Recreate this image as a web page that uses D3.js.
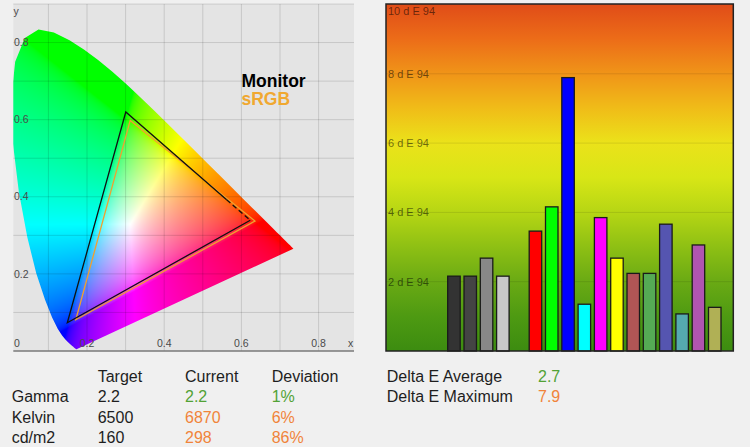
<!DOCTYPE html>
<html lang="en">
<head>
<meta charset="UTF-8">
<title>Calibration report</title>
<script src="https://cdn.jsdelivr.net/npm/d3@7"></script>
<style>
    body { margin: 0; background: #f0f0f0; }
    svg { display: block; font-family: "Liberation Sans", Arial, sans-serif; }
</style>
</head>
<body>
<svg id="chart" width="750" height="447"></svg>
<script>
    // CIE 1931 spectral locus (x, y), 380 - 700 nm
    const locus = [
        [0.1741, 0.0050], [0.1740, 0.0050], [0.1738, 0.0049], [0.1736, 0.0049], [0.1733, 0.0048],
        [0.1730, 0.0048], [0.1726, 0.0048], [0.1721, 0.0048], [0.1714, 0.0051], [0.1703, 0.0058],
        [0.1689, 0.0069], [0.1669, 0.0086], [0.1644, 0.0109], [0.1611, 0.0138], [0.1566, 0.0177],
        [0.1510, 0.0227], [0.1440, 0.0297], [0.1355, 0.0399], [0.1241, 0.0578], [0.1096, 0.0868],
        [0.0913, 0.1327], [0.0687, 0.2007], [0.0454, 0.2950], [0.0235, 0.4127], [0.0082, 0.5384],
        [0.0039, 0.6548], [0.0139, 0.7502], [0.0389, 0.8120], [0.0743, 0.8338], [0.1142, 0.8262],
        [0.1547, 0.8059], [0.1929, 0.7816], [0.2296, 0.7543], [0.2658, 0.7243], [0.3016, 0.6923],
        [0.3373, 0.6589], [0.3731, 0.6245], [0.4087, 0.5896], [0.4441, 0.5547], [0.4788, 0.5202],
        [0.5125, 0.4866], [0.5448, 0.4544], [0.5752, 0.4242], [0.6029, 0.3965], [0.6270, 0.3725],
        [0.6482, 0.3514], [0.6658, 0.3340], [0.6801, 0.3197], [0.6915, 0.3083], [0.7006, 0.2993],
        [0.7079, 0.2920], [0.7140, 0.2859], [0.7190, 0.2809], [0.7230, 0.2770], [0.7260, 0.2740],
        [0.7283, 0.2717], [0.7300, 0.2700], [0.7311, 0.2689], [0.7320, 0.2680], [0.7334, 0.2666],
        [0.7347, 0.2653]
    ];

    // primaries R, G, B
    const monitorGamut = [[0.623, 0.339], [0.3005, 0.620], [0.149, 0.0732]];
    const srgbGamut = [[0.635, 0.337], [0.312, 0.598], [0.171, 0.081]];
    const cieTicks = [0.2, 0.4, 0.6, 0.8];
    const cieGrid = [0.1, 0.2, 0.3, 0.4, 0.5, 0.6, 0.7, 0.8, 0.9];

    // delta E per patch ("" = empty slot)
    const patches = ["Black", "Dark grey", "Grey", "Light grey", "",
        "Red", "Green", "Blue", "Cyan", "Magenta", "Yellow",
        "Dark red", "Dark green", "Dark blue", "Dark cyan", "Dark magenta", "Dark yellow"];
    const deltaE = [2.16, 2.16, 2.68, 2.16, null,
        3.46, 4.16, 7.89, 1.35, 3.85, 2.68,
        2.24, 2.24, 3.66, 1.07, 3.06, 1.26];
    const patchColors = ["#333333", "#444444", "#888888", "#c8c8c8", "none",
        "#ff0000", "#00ff00", "#0000ff", "#00ffff", "#ff00ff", "#ffff00",
        "#b05555", "#55aa55", "#5555b0", "#55aab0", "#b055b0", "#b0b055"];
    const deTicks = [2, 4, 6, 8, 10];

    const tableHead = ["Target", "Current", "Deviation"];
    const tableRows = ["Gamma", "Kelvin", "cd/m2"];
    const targetVals = ["2.2", "6500", "160"];
    const currentVals = ["2.2", "6870", "298"];
    const deviationVals = ["1%", "6%", "86%"];
    const rowOk = [true, false, false];
    const summaryLabels = ["Delta E Average", "Delta E Maximum"];
    const summaryVals = ["2.7", "7.9"];
    const summaryOk = [true, false];

    const GOOD = "#52a235", BAD = "#f0843a", INK = "#1e1e1e";

    const svg = d3.select("#chart");
    const defs = svg.append("defs");

    // ---------- chromaticity diagram ----------
    const L = 13.3, R = 354, T = 4, B = 351;
    const x = d3.scaleLinear().domain([0, 0.9]).range([9.8, 357.2]);
    const y = d3.scaleLinear().domain([0, 0.9]).range([351, 4]);

    svg.append("rect")
        .attr("x", L).attr("y", T)
        .attr("width", R - L).attr("height", B - T)
        .attr("fill", "#e4e4e4");

    // paint xy -> sRGB into a canvas, clipped by the locus
    const k = 2;
    const cw = Math.round((R - L) * k), ch = Math.round((B - T) * k);
    const canvas = document.createElement("canvas");
    canvas.width = cw;
    canvas.height = ch;
    const ctx = canvas.getContext("2d");
    const img = ctx.createImageData(cw, ch);
    const gam = v => v <= 0.0031308 ? 12.92 * v : 1.055 * Math.pow(v, 1 / 2.4) - 0.055;
    for (let j = 0; j < ch; j++) {
        const cy = Math.max(y.invert(T + (j + 0.5) / k), 0.002);
        for (let i = 0; i < cw; i++) {
            const cx = x.invert(L + (i + 0.5) / k);
            const X = cx / cy, Z = (1 - cx - cy) / cy;
            let r = 3.2406 * X - 1.5372 - 0.4986 * Z;
            let g = -0.9689 * X + 1.8758 + 0.0415 * Z;
            let b = 0.0557 * X - 0.2040 + 1.0570 * Z;
            r = Math.max(r, 0); g = Math.max(g, 0); b = Math.max(b, 0);
            const m = Math.max(r, g, b) || 1;
            const p = (j * cw + i) * 4;
            img.data[p] = 255 * gam(r / m);
            img.data[p + 1] = 255 * gam(g / m);
            img.data[p + 2] = 255 * gam(b / m);
            img.data[p + 3] = 255;
        }
    }
    ctx.putImageData(img, 0, 0);

    const xyLine = d3.line().x(d => x(d[0])).y(d => y(d[1]));
    defs.append("clipPath").attr("id", "locus-clip")
        .append("path").attr("d", xyLine(locus) + "Z");
    svg.append("image")
        .attr("href", canvas.toDataURL())
        .attr("x", L).attr("y", T)
        .attr("width", R - L).attr("height", B - T)
        .attr("preserveAspectRatio", "none")
        .attr("clip-path", "url(#locus-clip)");

    // grid
    svg.append("g").selectAll("line.v")
        .data(cieGrid.filter(v => x(v) < R))
        .join("line")
        .attr("x1", d => x(d)).attr("x2", d => x(d))
        .attr("y1", T).attr("y2", B)
        .attr("stroke", "rgba(0,0,0,0.13)");
    svg.append("g").selectAll("line.h")
        .data(cieGrid)
        .join("line")
        .attr("x1", L).attr("x2", R)
        .attr("y1", d => y(d)).attr("y2", d => y(d))
        .attr("stroke", "rgba(0,0,0,0.13)");
    svg.append("line")
        .attr("x1", L).attr("x2", R).attr("y1", B).attr("y2", B)
        .attr("stroke", "#7a7a7a").attr("stroke-width", 1.5);

    // tick labels
    const tick = svg.append("g").attr("font-size", 10.5).attr("fill", "#4a4a4a");
    tick.selectAll("text.yt").data(cieTicks).join("text")
        .attr("x", 14).attr("y", d => y(d)).attr("dy", "0.35em")
        .text(d => d);
    tick.selectAll("text.xt").data(cieTicks).join("text")
        .attr("x", d => x(d)).attr("y", 347).attr("text-anchor", "middle")
        .text(d => d);
    tick.append("text").attr("x", 14).attr("y", 347).text("0");
    tick.append("text").attr("x", 348).attr("y", 347).text("x");
    tick.append("text").attr("x", 13.5).attr("y", 15).text("y");

    // gamut triangles
    svg.append("path")
        .attr("d", xyLine(srgbGamut) + "Z")
        .attr("fill", "none").attr("stroke", "#f0a030").attr("stroke-width", 1.3);
    const split = d3.interpolate(monitorGamut[1], monitorGamut[0])(0.81);
    svg.append("path")
        .attr("d", xyLine([monitorGamut[0], monitorGamut[2], monitorGamut[1], split]))
        .attr("fill", "none").attr("stroke", "#111").attr("stroke-width", 1.3);
    svg.append("path")
        .attr("d", xyLine([split, monitorGamut[0]]))
        .attr("fill", "none").attr("stroke", "#111").attr("stroke-width", 1.3)
        .attr("stroke-dasharray", "5,3");

    // legend
    svg.append("text").attr("x", 241.5).attr("y", 86.5)
        .attr("font-size", 17.5).attr("font-weight", "bold").attr("fill", "#000")
        .text("Monitor");
    svg.append("text").attr("x", 241.5).attr("y", 105)
        .attr("font-size", 17.5).attr("font-weight", "bold").attr("fill", "#f0a830")
        .text("sRGB");

    // ---------- delta E bars ----------
    const BL = 386, BR = 733.3, BT = 4, BB = 351;
    const bx = d3.scaleBand().domain(patches)
        .range([445.8, 722.9]).paddingInner(0.233).paddingOuter(0.1165);
    const by = d3.scaleLinear().domain([0, 10]).range([BB, 4.5]);

    const grad = defs.append("linearGradient").attr("id", "de-grad")
        .attr("x1", 0).attr("y1", 0).attr("x2", 0).attr("y2", 1);
    const gradColors = ["#e04c18", "#ec6c18", "#f09418", "#f0bc18", "#ebe21a", "#d8e616",
        "#b6d614", "#8ec014", "#6aaa14", "#4e9a12", "#3c8c10"];
    grad.selectAll("stop").data(gradColors).join("stop")
        .attr("offset", (d, i) => i / (gradColors.length - 1))
        .attr("stop-color", d => d);

    svg.append("rect")
        .attr("x", BL).attr("y", BT)
        .attr("width", BR - BL).attr("height", BB - BT)
        .attr("fill", "url(#de-grad)");

    svg.append("g").selectAll("line")
        .data(deTicks.filter(d => d < 10))
        .join("line")
        .attr("x1", BL).attr("x2", BR)
        .attr("y1", d => by(d)).attr("y2", d => by(d))
        .attr("stroke", "rgba(0,0,0,0.1)");

    svg.append("g").attr("font-size", 11).attr("fill", "rgba(0,0,0,0.55)")
        .selectAll("text").data(deTicks).join("text")
        .attr("x", 388)
        .attr("y", d => d === 10 ? 11 : by(d))
        .attr("dy", "0.35em")
        .text(d => d + " d E 94");

    svg.append("g").selectAll("rect")
        .data(patches.map((p, i) => ({p, v: deltaE[i], c: patchColors[i]})).filter(d => d.v != null))
        .join("rect")
        .attr("x", d => bx(d.p))
        .attr("y", d => by(d.v))
        .attr("width", bx.bandwidth())
        .attr("height", d => BB - by(d.v))
        .attr("fill", d => d.c)
        .attr("stroke", "#1a1a1a").attr("stroke-width", 1.3);

    svg.append("rect")
        .attr("x", BL).attr("y", BT)
        .attr("width", BR - BL).attr("height", BB - BT)
        .attr("fill", "none").attr("stroke", "#222").attr("stroke-width", 1.5);

    // ---------- tables ----------
    const tbl = svg.append("g").attr("font-size", 16).attr("fill", INK);
    const colX = [97.7, 185, 271.7];
    const rowY = [402, 422.5, 443];
    tbl.selectAll("text.head").data(tableHead).join("text")
        .attr("x", (d, i) => colX[i]).attr("y", 381.5).text(d => d);
    tbl.selectAll("text.lab").data(tableRows).join("text")
        .attr("x", 11.7).attr("y", (d, i) => rowY[i]).text(d => d);
    tbl.selectAll("text.tgt").data(targetVals).join("text")
        .attr("x", colX[0]).attr("y", (d, i) => rowY[i]).text(d => d);
    tbl.selectAll("text.cur").data(currentVals).join("text")
        .attr("x", colX[1]).attr("y", (d, i) => rowY[i])
        .attr("fill", (d, i) => rowOk[i] ? GOOD : BAD).text(d => d);
    tbl.selectAll("text.dev").data(deviationVals).join("text")
        .attr("x", colX[2]).attr("y", (d, i) => rowY[i])
        .attr("fill", (d, i) => rowOk[i] ? GOOD : BAD).text(d => d);

    tbl.selectAll("text.sl").data(summaryLabels).join("text")
        .attr("x", 386.7).attr("y", (d, i) => [381.5, 401.7][i]).text(d => d);
    tbl.selectAll("text.sv").data(summaryVals).join("text")
        .attr("x", 538).attr("y", (d, i) => [381.5, 401.7][i])
        .attr("fill", (d, i) => summaryOk[i] ? GOOD : BAD).text(d => d);
</script>
</body>
</html>
